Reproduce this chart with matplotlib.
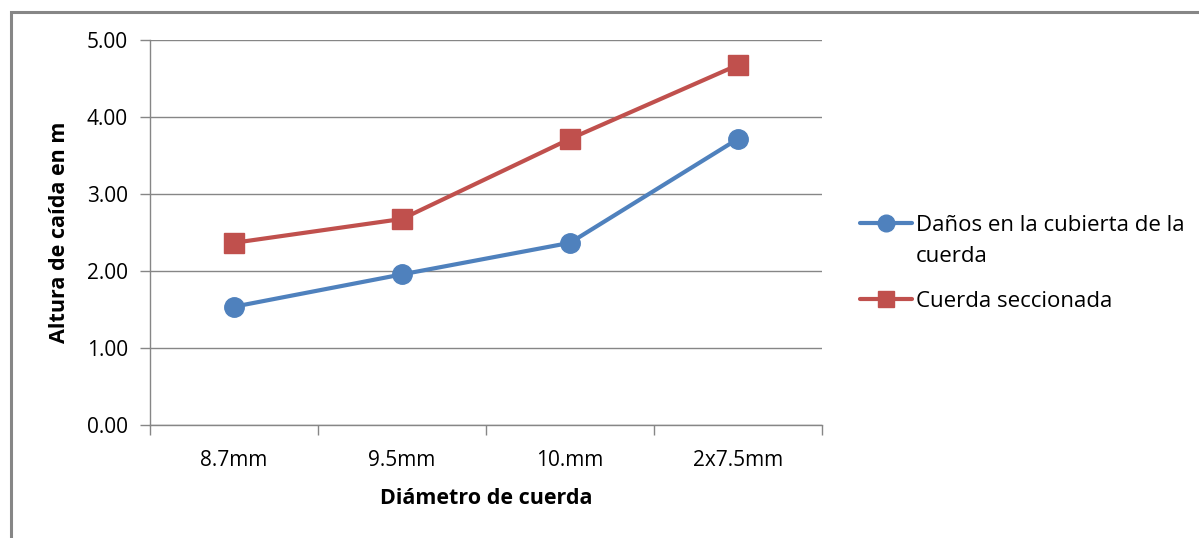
import matplotlib
matplotlib.use("Agg")
import matplotlib.pyplot as plt
from matplotlib.lines import Line2D
from matplotlib.patches import Rectangle

# Data
categories = ["8.7mm", "9.5mm", "10.mm", "2x7.5mm"]
danos_cubierta = [1.54, 1.96, 2.37, 3.72]
cuerda_seccionada = [2.37, 2.68, 3.72, 4.68]
series_labels = ["Daños en la cubierta de la\ncuerda", "Cuerda seccionada"]
y_ticks = [0, 1, 2, 3, 4, 5]

BLUE = "#4F81BD"
RED = "#C0504D"
GRID = "#868686"
FONT = "Open Sans"
TICK_SIZE = 15
TITLE_SIZE = 15.5
LEGEND_SIZE = 16

plt.rcParams["font.family"] = [FONT, "DejaVu Sans"]

W, H = 1199, 538
fig = plt.figure(figsize=(W / 100, H / 100), dpi=100)
fig.patch.set_facecolor("white")

# Chart-area frame (left/top edges visible)
fig.add_artist(Rectangle((11 / W, -0.05), 1.2, 1 - 12 / H + 0.05,
                         transform=fig.transFigure, fill=False,
                         edgecolor=GRID, linewidth=2.2))

ax = fig.add_axes([150 / W, 1 - 425.3 / H, 672 / W, 385 / H])

x = [i + 0.5 for i in range(len(categories))]
line_kw = dict(linewidth=3.0, markersize=14, solid_capstyle="round",
               solid_joinstyle="round")
ax.plot(x, danos_cubierta, color=BLUE, marker="o", **line_kw, zorder=3)
ax.plot(x, cuerda_seccionada, color=RED, marker="s", **line_kw, zorder=3)

ax.set_xlim(0, len(categories))
ax.set_ylim(0, 5)
ax.set_yticks(y_ticks)
ax.set_yticklabels([f"{v:.2f}" for v in y_ticks])
ax.set_xticks(range(len(categories) + 1))
ax.set_xticklabels([])
ax.set_xticks(x, minor=True)
ax.set_xticklabels(categories, minor=True)

ax.grid(axis="y", color=GRID, linewidth=1.0)
ax.set_axisbelow(True)
for s in ["top", "right"]:
    ax.spines[s].set_visible(False)
for s in ["left", "bottom"]:
    ax.spines[s].set_color(GRID)
    ax.spines[s].set_linewidth(1.0)

ax.tick_params(axis="y", which="major", length=7, width=1, color=GRID,
               labelsize=TICK_SIZE, pad=9)
ax.tick_params(axis="x", which="major", length=7, width=1, color=GRID)
ax.tick_params(axis="x", which="minor", length=0, labelsize=TICK_SIZE,
               pad=18)

ax.set_ylabel("Altura de caída en m", fontsize=TITLE_SIZE,
              fontweight="bold", labelpad=12)
ax.set_xlabel("Diámetro de cuerda", fontsize=TITLE_SIZE, fontweight="bold",
              labelpad=12)


# Legend, drawn in figure pixels
def fx(px):
    return px / W


def fy(py):
    return 1 - py / H


legend_rows = [(223, BLUE, "o", series_labels[0]),
               (299, RED, "s", series_labels[1])]
for py, col, mk, lab in legend_rows:
    fig.add_artist(Line2D([fx(860), fx(912)], [fy(py), fy(py)],
                          transform=fig.transFigure, color=col,
                          linewidth=3.0, solid_capstyle="round"))
    fig.add_artist(Line2D([fx(886)], [fy(py)], transform=fig.transFigure,
                          color=col, marker=mk, markersize=12,
                          linestyle="none"))
    for k, part in enumerate(lab.split("\n")):
        fig.text(fx(916), fy(py + 31 * k), part, ha="left",
                 va="center_baseline", fontsize=LEGEND_SIZE)

fig.savefig("out.png", dpi=100)
